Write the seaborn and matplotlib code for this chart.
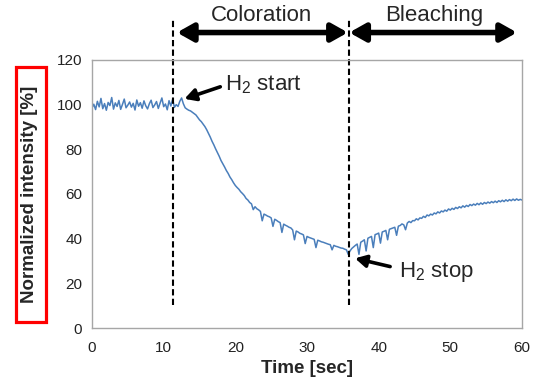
import numpy as np
import pandas as pd
import matplotlib
matplotlib.use("Agg")
import matplotlib.pyplot as plt
from matplotlib.patches import Rectangle
import seaborn as sns

intensity = [
    # 0 - 11.75 s
    98.5, 100.2, 97.8, 101.5, 99.0, 102.8, 98.2, 100.5, 97.5, 101.0, 99.6, 103.2,
    98.0, 100.8, 99.2, 101.9, 97.9, 100.1, 102.5, 98.6, 99.8, 101.2, 98.9, 100.6,
    97.6, 102.1, 99.3, 100.9, 98.4, 101.7, 99.5, 98.1, 100.4, 102.0, 98.7, 99.9,
    101.4, 98.3, 100.7, 103.0, 99.1, 100.3, 97.7, 101.8, 99.4, 102.4, 98.8, 100.0,
    # 12 - 23.75 s
    99.2, 101.5, 103.0, 100.4,
    98.6, 98.0, 97.5, 97.2,
    96.6, 96.0, 95.4, 94.3,
    93.2, 92.4, 91.3, 90.2,
    88.8, 87.2, 85.5, 83.6,
    82.0, 80.2, 78.6, 76.9,
    75.0, 73.6, 72.1, 70.5,
    69.2, 67.6, 66.4, 65.0,
    63.8, 62.9, 62.1, 61.0,
    60.2, 59.3, 58.0, 57.3,
    56.2, 55.6, 53.0, 54.3,
    53.4, 52.9, 52.2, 48.0,
    # 24 - 35.75 s
    51.0, 50.6, 50.1, 49.8,
    49.3, 45.5, 48.7, 48.2,
    47.6, 47.2, 42.8, 46.5,
    46.0, 45.6, 45.1, 44.8,
    43.9, 39.5, 43.4, 43.0,
    42.4, 42.1, 41.7, 37.8,
    41.0, 40.6, 40.3, 40.0,
    39.7, 36.0, 39.3, 39.0,
    38.6, 38.4, 38.1, 37.8,
    37.5, 37.3, 35.0, 37.0,
    36.6, 36.4, 36.1, 35.8,
    35.7, 35.3, 35.0, 33.0,
    # 36 - 47.75 s
    34.5, 35.6, 36.3, 37.0,
    37.6, 33.0, 38.4, 38.9,
    39.5, 34.5, 40.2, 40.6,
    41.0, 36.0, 41.8, 42.1,
    42.5, 38.0, 43.0, 43.3,
    43.7, 39.5, 44.2, 44.5,
    44.8, 45.1, 41.5, 45.6,
    45.9, 46.6, 46.2, 44.0,
    47.0, 47.7, 47.2, 48.1,
    48.0, 48.9, 48.4, 49.3,
    49.1, 50.0, 49.5, 50.6,
    50.2, 51.0, 50.6, 51.5,
    # 48 - 60 s
    51.1, 52.0, 51.5, 52.4,
    52.0, 52.8, 52.3, 53.3,
    52.8, 53.6, 53.1, 54.0,
    53.5, 54.3, 53.8, 54.7,
    54.1, 54.9, 54.4, 55.3,
    54.8, 55.5, 55.0, 55.8,
    55.2, 56.0, 55.4, 56.2,
    55.7, 56.4, 55.9, 56.6,
    56.1, 56.8, 56.2, 57.0,
    56.5, 57.2, 56.6, 57.4,
    56.8, 57.5, 57.0, 57.7,
    57.1, 57.8, 57.2, 57.6,
    57.3,
]
time = np.round(np.arange(len(intensity)) * 0.25, 2)

x_ticks = [0, 10, 20, 30, 40, 50, 60]
y_ticks = [0, 20, 40, 60, 80, 100, 120]
t_start, t_stop = 11.35, 35.8

df = pd.DataFrame({"Time [sec]": time, "Normalized intensity [%]": intensity})

sns.set_theme(style="white")
plt.rcParams["font.family"] = ["Liberation Sans", "DejaVu Sans"]
plt.rcParams["mathtext.fontset"] = "custom"
plt.rcParams["mathtext.rm"] = "Liberation Sans"
plt.rcParams["mathtext.it"] = "Liberation Sans:italic"

fig = plt.figure(figsize=(5.37, 3.83), dpi=100)
ax = fig.add_axes([92 / 537, 1 - 328 / 383, 430 / 537, 268 / 383])

sns.lineplot(data=df, x="Time [sec]", y="Normalized intensity [%]", ax=ax,
             color="#4a7ebb", linewidth=1.1)

ax.set_xlim(0, 60)
ax.set_ylim(0, 120)
ax.set_xticks(x_ticks)
ax.set_yticks(y_ticks)
ax.tick_params(axis="both", length=0, labelsize=11, colors="#222222")
ax.tick_params(axis="y", pad=7)
ax.tick_params(axis="x", pad=9)
for s in ax.spines.values():
    s.set_color("#a6a6a6")
    s.set_linewidth(1.0)

ax.set_ylabel("")
ax.set_xlabel("Time [sec]", fontsize=13.5, fontweight="bold", labelpad=4)

# y label with red box
fig.text(30 / 537, 1 - 194.5 / 383, "Normalized intensity [%]", rotation=90,
         ha="center", va="center", fontsize=13.5, fontweight="bold")
fig.add_artist(Rectangle((15.5 / 537, 1 - 322 / 383), 30 / 537, 255 / 383,
                         transform=fig.transFigure, fill=False,
                         edgecolor="#ff0000", linewidth=2.3))

# dashed vertical markers
for tv in (t_start, t_stop):
    ax.plot([tv, tv], [10.3, 138.8], color="black", linestyle=(0, (3, 1.6)),
            linewidth=1.5, clip_on=False)

# phase arrows
arrow_y = 132.3
for x0, x1 in ((t_start + 0.5, t_stop - 0.1), (t_stop + 0.1, 59.3)):
    ax.annotate("", xy=(x1, arrow_y), xytext=(x0, arrow_y),
                xycoords="data", textcoords="data", annotation_clip=False,
                arrowprops=dict(arrowstyle="<|-|>,head_length=0.8,head_width=0.45",
                                color="black", linewidth=4.0,
                                shrinkA=0, shrinkB=0))
ax.text(23.7, 140.0, "Coloration", ha="center", va="center", fontsize=16,
        clip_on=False)
ax.text(47.7, 140.0, "Bleaching", ha="center", va="center", fontsize=16,
        clip_on=False)

# H2 annotations
ax.annotate("", xy=(12.9, 102.6), xytext=(17.9, 108.0),
            arrowprops=dict(arrowstyle="-|>,head_length=0.55,head_width=0.3",
                            color="black", linewidth=2.6, shrinkA=0, shrinkB=0))
ax.text(18.55, 106.6, "H$_2$ start", ha="left", va="baseline", fontsize=16)
ax.annotate("", xy=(36.7, 31.2), xytext=(41.6, 27.5),
            arrowprops=dict(arrowstyle="-|>,head_length=0.55,head_width=0.3",
                            color="black", linewidth=2.6, shrinkA=0, shrinkB=0))
ax.text(42.9, 22.8, "H$_2$ stop", ha="left", va="baseline", fontsize=16)

fig.savefig("out.png", dpi=100, facecolor="white")
